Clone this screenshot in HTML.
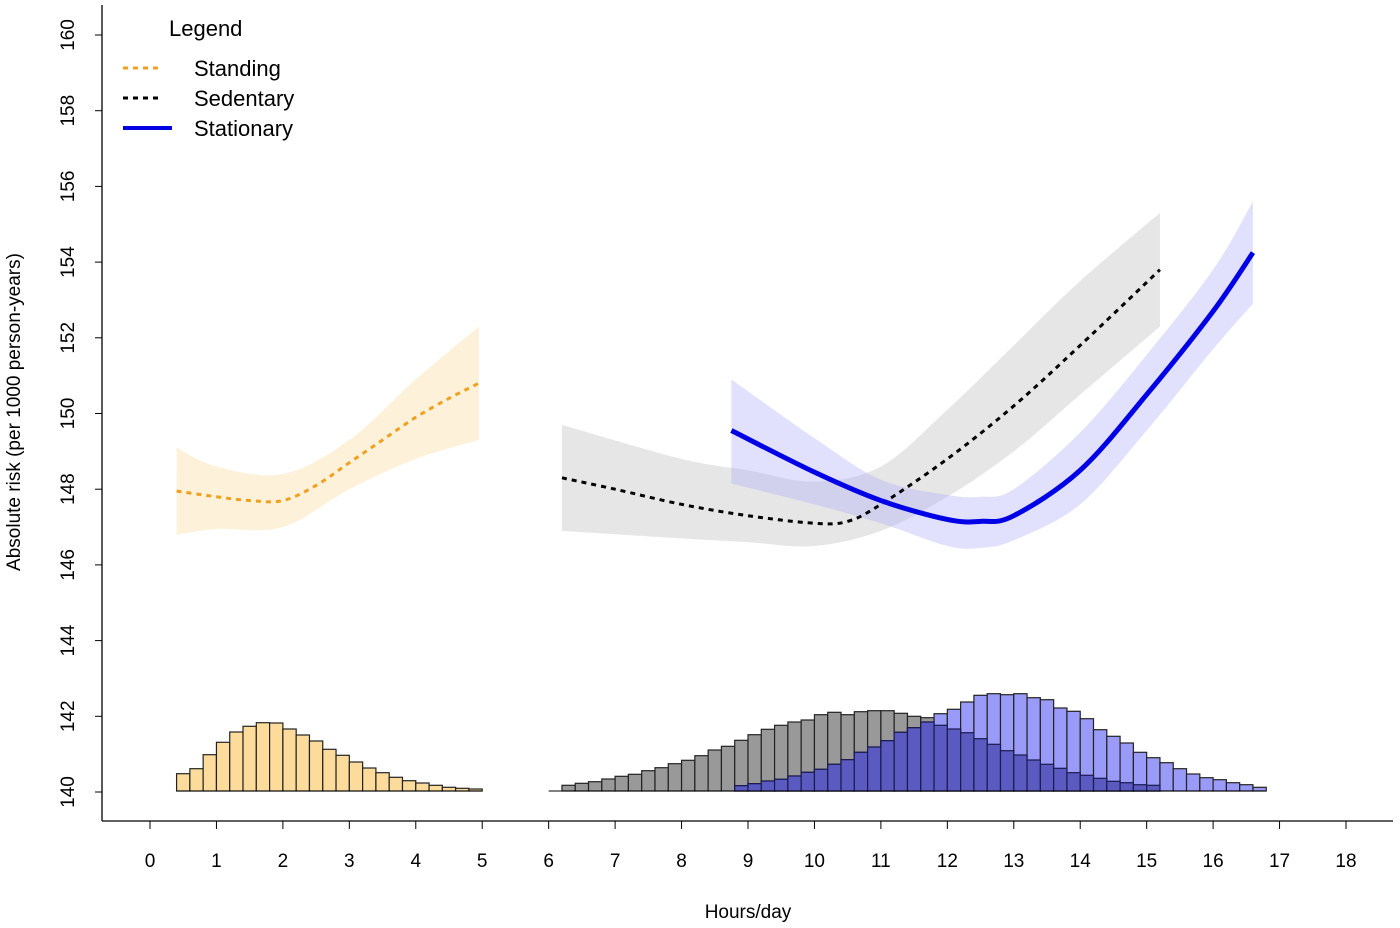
<!DOCTYPE html>
<html><head><meta charset="utf-8"><style>
html,body{margin:0;padding:0;background:#fff}
svg{display:block;font-family:"Liberation Sans",Arial,sans-serif}
</style></head><body>
<svg id="chart" width="1400" height="928" viewBox="0 0 1400 928">
<g id="bands"></g>
<g id="hists"></g>
<g id="lines"></g>
<g id="axes"></g>
<g>
<text x="169" y="36" font-size="22">Legend</text>
<line x1="123" y1="68" x2="162" y2="68" stroke="#f0a020" stroke-width="3" stroke-dasharray="5,5"/>
<text x="194" y="76" font-size="22">Standing</text>
<line x1="123" y1="98" x2="162" y2="98" stroke="#000" stroke-width="3" stroke-dasharray="5,5"/>
<text x="194" y="106" font-size="22">Sedentary</text>
<line x1="123" y1="128" x2="172" y2="128" stroke="#0000e6" stroke-width="4"/>
<text x="194" y="136" font-size="22">Stationary</text>
</g>
</svg>
<script>
// ---- data ----
const xTicks=[0,1,2,3,4,5,6,7,8,9,10,11,12,13,14,15,16,17,18];
const yTicks=[140,142,144,146,148,150,152,154,156,158,160];
const binWidth=0.2;
const standStart=0.4;
const standCounts=[17.3,22.3,36.3,48.7,59,64.7,68.3,68,62,56,50,41.7,35.7,29,23,18.3,13.7,10.3,8,5.7,3.7,2.7,2];
const sedStart=6.2;
const sedCounts=[5.7,7.7,9.3,12,14.7,16.7,20.3,23.3,27.3,30.7,35.3,41,44.7,50.7,56.3,61.7,65.7,69,71,76.3,78.7,76.3,79.3,80.3,80.3,77.7,74.7,73.3,65.7,62,58.3,52.3,46.7,40.3,36,31,26.7,22.7,18.3,15.7,12.7,9.7,8.3,6.3,5.7];
const statStart=8.8;
const statCounts=[5.3,7.3,10,11.7,15,18.7,21.7,26.7,31.3,38.7,44,50.3,58.7,63.3,69,77.3,81.7,89,95.7,97.3,96.3,97.3,93.3,91.3,83,79.7,72.3,61.3,54.7,48,38.7,33.3,28.3,22.3,17,13.3,11.3,8.3,6.3,3.7];
const standX=[0.4,1,1.5,2,2.5,3,3.5,4,4.5,4.95];
const standY=[147.95,147.8,147.7,147.7,148.1,148.7,149.3,149.9,150.4,150.8];
const standUpX=[0.4,1,2,3,4,4.95];
const standUp=[149.1,148.6,148.4,149.3,150.9,152.3];
const standLo=[146.8,146.95,147.0,148.0,148.8,149.3];
const sedX=[6.2,7,8,9,10,10.5,11,12,13,14,15.2];
const sedY=[148.3,148.0,147.6,147.3,147.1,147.15,147.6,148.8,150.2,151.8,153.8];
const sedBX=[6.2,8,9,10,11,12,13,14,15.2];
const sedUp=[149.7,148.8,148.5,148.2,148.6,150.1,151.8,153.5,155.3];
const sedLo=[146.9,146.7,146.6,146.5,146.9,147.8,149.0,150.5,152.3];
const statX=[8.75,10,11,12,12.5,13,14,15,16,16.6];
const statY=[149.55,148.45,147.7,147.2,147.15,147.3,148.5,150.5,152.7,154.25];
const statUp=[150.9,149.35,148.25,147.85,147.8,148.0,149.5,151.55,153.8,155.6];
const statLo=[148.15,147.6,147.1,146.5,146.45,146.65,147.6,149.55,151.7,152.9];

// ---- scales ----
const X=v=>150+v*(1346-150)/18;
const Y=v=>792-(v-140)*(792-35)/20;
const H=c=>c; // frequency units -> px height
const NS="http://www.w3.org/2000/svg";
function mk(tag,attrs,parent){const e=document.createElementNS(NS,tag);for(const k in attrs)e.setAttribute(k,attrs[k]);parent.appendChild(e);return e;}
function spline(pts){let d="M"+pts[0][0]+","+pts[0][1];for(let i=0;i<pts.length-1;i++){const p0=pts[i-1]||pts[i],p1=pts[i],p2=pts[i+1],p3=pts[i+2]||p2;const c1=[p1[0]+(p2[0]-p0[0])/6,p1[1]+(p2[1]-p0[1])/6];const c2=[p2[0]-(p3[0]-p1[0])/6,p2[1]-(p3[1]-p1[1])/6];d+=" C"+c1+" "+c2+" "+p2;}return d;}
function pts(xs,ys){return xs.map((x,i)=>[X(x),Y(ys[i])]);}

const bands=document.getElementById('bands');
function band(xs,up,lo,fill,name){const u=pts(xs,up),l=pts(xs,lo).reverse();let d=spline(u);d+=" L"+l[0]+spline(l).slice(1).replace(/^[^C]*/,"")+"Z";const p=mk('path',{d:d,fill:fill},bands);

}
band(standUpX,standUp,standLo,"rgba(253,225,170,0.45)","standing-ci-band");
band(sedBX,sedUp,sedLo,"rgba(200,200,200,0.45)","sedentary-ci-band");
band(statX,statUp,statLo,"rgba(170,170,250,0.35)","stationary-ci-band");

const hists=document.getElementById('hists');
const base=Y(140)-1;
function bars(start,counts,fill,name){counts.forEach((c,i)=>{const x0=X(start+i*binWidth),x1=X(start+(i+1)*binWidth);const r=mk('rect',{x:x0,y:base-H(c),width:x1-x0,height:H(c),fill:fill,stroke:"#222","stroke-width":1.2},hists);

});}
bars(standStart,standCounts,"#fddc9b","standing-hist-bar");
bars(sedStart,sedCounts,"#999999","sedentary-hist-bar");
bars(statStart,statCounts,"#9a9af8","stationary-hist-bar");
// overlap
statCounts.forEach((c,i)=>{const xv=statStart+i*binWidth;const j=Math.round((xv-sedStart)/binWidth);const g=sedCounts[j]||0;const h=Math.min(c,g);if(h<=0)return;const x0=X(xv),x1=X(xv+binWidth);const r=mk('rect',{x:x0,y:base-H(h),width:x1-x0,height:H(h),fill:"#5a5ac0",stroke:"#1a1a50","stroke-width":1.2},hists);

});
mk('line',{x1:X(0.4),x2:X(5),y1:base,y2:base,stroke:"#000"},hists);
mk('line',{x1:X(6),x2:X(16.8),y1:base,y2:base,stroke:"#000"},hists);

const lines=document.getElementById('lines');
function curve(xs,ys,stroke,w,dash,name){const p=mk('path',{d:spline(pts(xs,ys)),fill:"none",stroke:stroke,"stroke-width":w,"stroke-dasharray":dash},lines);

}
curve(standX,standY,"#f0a020",3,"5,5","standing-line");
curve(sedX,sedY,"#000",3,"5,5","sedentary-line");
curve(statX,statY,"#0000e6",5,"none","stationary-line");

const axes=document.getElementById('axes');
mk('line',{x1:102,y1:5,x2:102,y2:821,stroke:"#000","stroke-width":1.3},axes);
mk('line',{x1:102,y1:821,x2:1393,y2:821,stroke:"#000","stroke-width":1.3},axes);
yTicks.forEach(v=>{mk('line',{x1:95,x2:102,y1:Y(v),y2:Y(v),stroke:"#000"},axes);const t=mk('text',{x:0,y:0,"font-size":19,"text-anchor":"middle",transform:`translate(74,${Y(v)}) rotate(-90)`},axes);t.textContent=v;

});
xTicks.forEach(v=>{mk('line',{x1:X(v),x2:X(v),y1:821,y2:829,stroke:"#000"},axes);const t=mk('text',{x:X(v),y:867,"font-size":19,"text-anchor":"middle"},axes);t.textContent=v;

});
const xt=mk('text',{x:748,y:918,"font-size":19,"text-anchor":"middle"},axes);xt.textContent="Hours/day";


const yt=mk('text',{x:0,y:0,"font-size":19,"text-anchor":"middle",transform:"translate(20,412) rotate(-90)"},axes);yt.textContent="Absolute risk (per 1000 person-years)";


</script>
</body></html>
